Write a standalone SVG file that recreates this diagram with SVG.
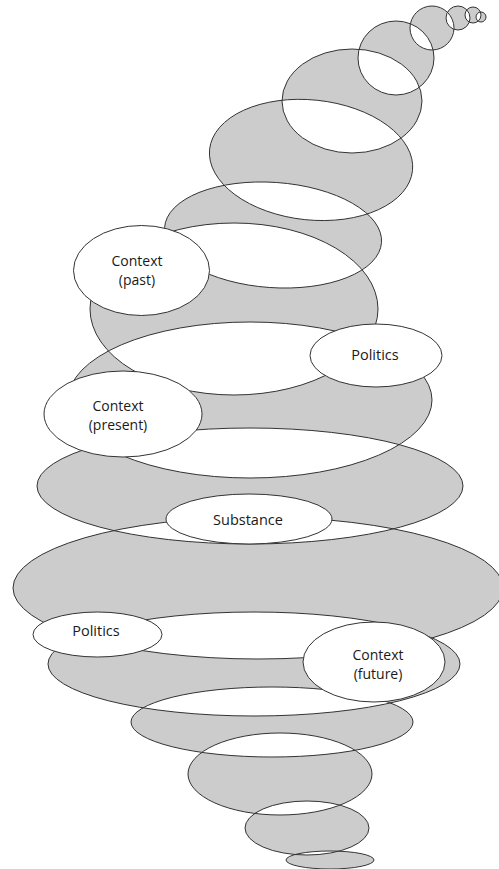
<svg xmlns="http://www.w3.org/2000/svg" width="499" height="869" viewBox="0 0 499 869">
<style>
.spiral{fill:#cccccc;fill-rule:evenodd;stroke:#333;stroke-width:1}
.lab ellipse{fill:#fff;stroke:#333;stroke-width:1}
.lab text{font-family:"Open Sans","Noto Sans",sans-serif;font-size:14.5px;fill:#1a1a1a;text-anchor:middle}
.lab text.two{font-size:14px}
</style>
<rect width="499" height="869" fill="#fff"/>
<g id="spiral">
<path class="spiral" d="
M476,17 a5,5 0 1,0 10,0 a5,5 0 1,0 -10,0Z
M465,15 a8,8 0 1,0 16,0 a8,8 0 1,0 -16,0Z
M446,18 a12,12 0 1,0 24,0 a12,12 0 1,0 -24,0Z
M410,28 a22,22 0 1,0 44,0 a22,22 0 1,0 -44,0Z
M358,58 a38,37 0 1,0 76,0 a38,37 0 1,0 -76,0Z
M282,101 a70,52 0 1,0 140,0 a70,52 0 1,0 -140,0Z
M209.6,149.3 a102,60 6 1,0 202.9,21.3 a102,60 6 1,0 -202.9,-21.3Z
M164.6,227.4 a108.7,52.6 4 1,0 216.9,15.2 a108.7,52.6 4 1,0 -216.9,-15.2Z
M90,309 a144,86 0 1,0 288,0 a144,86 0 1,0 -288,0Z
M68,400 a182,78 0 1,0 364,0 a182,78 0 1,0 -364,0Z
M37,486 a213,58 0 1,0 426,0 a213,58 0 1,0 -426,0Z
M13,588 a245,71 0 1,0 490,0 a245,71 0 1,0 -490,0Z
M48,664 a206,52 0 1,0 412,0 a206,52 0 1,0 -412,0Z
M131,722 a141,35 0 1,0 282,0 a141,35 0 1,0 -282,0Z
M188,774 a92,41 0 1,0 184,0 a92,41 0 1,0 -184,0Z
M245,828 a62,27 0 1,0 124,0 a62,27 0 1,0 -124,0Z
M286,860 a44,9 0 1,0 88,0 a44,9 0 1,0 -88,0Z"/>
</g>
<g id="connectors"></g>
<g id="context-past" class="lab">
<ellipse cx="141.5" cy="270.5" rx="68" ry="45"/>
<text class="two" x="137" y="265.5">Context<tspan x="137" dy="19.5">(past)</tspan></text>
</g>
<g id="politics-top" class="lab">
<ellipse cx="376" cy="355.5" rx="66" ry="31.5"/>
<text x="375" y="360">Politics</text>
</g>
<g id="context-present" class="lab">
<ellipse cx="123" cy="414" rx="79" ry="43"/>
<text class="two" x="118" y="410.5">Context<tspan x="118" dy="19.5">(present)</tspan></text>
</g>
<g id="substance" class="lab">
<ellipse cx="249" cy="519" rx="83" ry="25"/>
<text x="248" y="525">Substance</text>
</g>
<g id="politics-bottom" class="lab">
<ellipse cx="97.5" cy="634.5" rx="64.5" ry="22.5"/>
<text x="96" y="636">Politics</text>
</g>
<g id="context-future" class="lab">
<ellipse cx="374" cy="662" rx="71" ry="40"/>
<text class="two" x="378" y="659.5">Context<tspan x="378" dy="19.5">(future)</tspan></text>
</g>
</svg>
